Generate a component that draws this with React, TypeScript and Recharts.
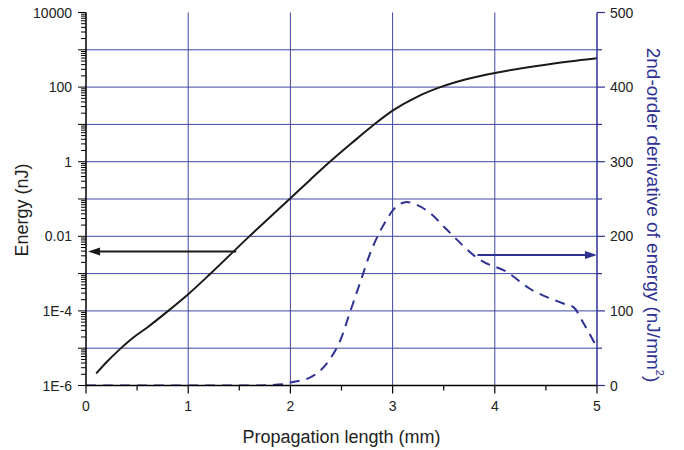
import React from 'react'
import { ComposedChart, Line, XAxis, YAxis, ReferenceLine, Label } from 'recharts'

// energy curve (left, log axis)
const energyX = [0.1, 0.2, 0.33, 0.46, 0.6, 0.79, 1.0, 1.23, 1.59, 2.0, 2.2, 2.4, 2.6, 2.81, 3.0, 3.24, 3.46, 3.72, 4.0, 4.5, 5.0]
const energyY = [2.1e-6, 4.2e-6, 9.3e-6, 1.9e-5, 3.6e-5, 9.3e-5, 2.8e-4, 1.07e-3, 9.5e-3, 0.105, 0.34, 1.07, 3.16, 9.5, 23.4, 55, 98, 162, 240, 400, 590]

// 2nd-order derivative (right, linear axis, dashed)
const derivX = [0, 1.6, 1.93, 2.0, 2.19, 2.39, 2.49, 2.58, 2.68, 2.78, 2.86, 2.94, 3.01, 3.14, 3.2, 3.37, 3.53, 3.86, 4.12, 4.34, 4.67, 4.77, 4.87, 4.98]
const derivY = [0, 0, 1.6, 4, 10.5, 36, 61, 97, 137, 177, 202, 222, 236, 246, 244, 231, 209, 168, 152, 130, 110, 105, 83, 56]

const xMajor = [0, 1, 2, 3, 4, 5]
const xTicks = [0, 0.5, 1, 1.5, 2, 2.5, 3, 3.5, 4, 4.5, 5]
const xGrid = [1, 2, 3, 4]

const leftLabelValues = [1e-6, 1e-4, 1e-2, 1, 100, 10000]
const leftLabelTexts = ['1E-6', '1E-4', '0.01', '1', '100', '10000']
const decades = [1e-6, 1e-5, 1e-4, 1e-3, 1e-2, 1e-1, 1, 10, 100, 1000, 10000]
const yGrid = [1e-5, 1e-4, 1e-3, 1e-2, 1e-1, 1, 10, 100, 1000]
const minorMult = [2, 3, 4, 5, 6, 7, 8, 9]
const leftTicks = decades
  .flatMap((d, i) => (i < decades.length - 1 ? [d, ...minorMult.map((m) => +(m * d).toPrecision(3))] : [d]))

const rightTicks = [0, 50, 100, 150, 200, 250, 300, 350, 400, 450, 500]
const rightMajor = [0, 100, 200, 300, 400, 500]

// arrows pointing to each curve's axis
const energyArrow = { from: 1.47, to: 0.02, y: 0.0039 }
const derivArrow = { from: 3.83, to: 5, y: 175 }

const energyData = energyX.map((x, i) => ({ x, e: energyY[i] }))
const derivData = derivX.map((x, i) => ({ x, d: derivY[i] }))

const BLUE = '#2e3192'
const GRID = '#4246a3'
const FONT = '"Liberation Sans", Arial, sans-serif'

const near = (a: number, b: number) => Math.abs(a - b) <= Math.abs(b) * 1e-6

const BottomTick = ({ x, y, payload }: any) => {
  const major = xMajor.includes(payload.value)
  return (
    <g>
      <line x1={x} x2={x} y1={y} y2={y + (major ? 8 : 5)} stroke="#000" strokeWidth={1.2} />
      {major && (
        <text x={x} y={y + 25} textAnchor="middle" fontSize={14} fill="#222" fontFamily={FONT}>
          {payload.value}
        </text>
      )}
    </g>
  )
}

const TopTick = ({ x, y, payload }: any) => {
  const major = xMajor.includes(payload.value)
  return <line x1={x} x2={x} y1={y} y2={y + (major ? 8 : 5)} stroke="#000" strokeWidth={1.2} />
}

const LeftTick = ({ x, y, payload }: any) => {
  const v = payload.value
  const isDecade = decades.some((d) => near(v, d))
  const li = leftLabelValues.findIndex((d) => near(v, d))
  return (
    <g>
      <line x1={x} x2={x - (isDecade ? 8 : 5)} y1={y} y2={y} stroke="#000" strokeWidth={1} />
      {li >= 0 && (
        <text x={x - 14} y={y} dy={5} textAnchor="end" fontSize={14} fill="#222" fontFamily={FONT}>
          {leftLabelTexts[li]}
        </text>
      )}
    </g>
  )
}

const RightTick = ({ x, y, payload }: any) => {
  const major = rightMajor.includes(payload.value)
  return (
    <g>
      <line x1={x} x2={x + (major ? 8 : 5)} y1={y} y2={y} stroke={BLUE} strokeWidth={1.2} />
      {major && (
        <text x={x + 13} y={y} dy={5} textAnchor="start" fontSize={14} fill="#222" fontFamily={FONT}>
          {payload.value}
        </text>
      )}
    </g>
  )
}

const arrowShape = (color: string) => (p: any) => {
  const { x1, y1, x2, y2 } = p
  const dir = x2 > x1 ? 1 : -1
  const len = 12
  const hw = 4
  return (
    <g>
      <line x1={x1} y1={y1} x2={x2 - dir * len} y2={y2} stroke={color} strokeWidth={2} />
      <polygon points={`${x2},${y2} ${x2 - dir * len},${y2 - hw} ${x2 - dir * len},${y2 + hw}`} fill={color} />
    </g>
  )
}

const LeftTitle = ({ viewBox }: any) => {
  const cx = 22
  const cy = viewBox.y + viewBox.height / 2 + 11
  return (
    <text x={cx} y={cy} transform={`rotate(-90 ${cx} ${cy})`} textAnchor="middle" dominantBaseline="central"
      fontSize={18} fill="#222" fontFamily={FONT}>
      Energy (nJ)
    </text>
  )
}

const RightTitle = ({ viewBox }: any) => {
  const cx = 653
  const cy = viewBox.y + viewBox.height / 2 + 16
  return (
    <text x={cx} y={cy} transform={`rotate(90 ${cx} ${cy})`} textAnchor="middle" dominantBaseline="central"
      fontSize={19} fill={BLUE} fontFamily={FONT}>
      2nd-order derivative of energy (nJ/mm
      <tspan dy={-7} fontSize={11}>2</tspan>
      <tspan dy={7}>)</tspan>
    </text>
  )
}

const BottomTitle = ({ viewBox }: any) => (
  <text x={viewBox.x + viewBox.width / 2} y={443} textAnchor="middle" fontSize={18} fill="#222" fontFamily={FONT}>
    Propagation length (mm)
  </text>
)

export default function App() {
  return (
    <div style={{ position: 'absolute', left: 0, top: 0, background: '#fff' }}>
      <ComposedChart width={684} height={450} margin={{ top: 12.5, right: 0, bottom: 0, left: 0 }}>
        <XAxis
          xAxisId={0}
          dataKey="x"
          type="number"
          domain={[0, 5]}
          ticks={xTicks}
          interval={0}
          height={64.5}
          tickSize={0}
          tickMargin={0}
          tick={<BottomTick />}
          tickLine={false}
          axisLine={{ stroke: '#000', strokeWidth: 1.5 }}
          allowDataOverflow
        >
          <Label content={<BottomTitle />} />
        </XAxis>
        <XAxis
          xAxisId="top"
          orientation="top"
          type="number"
          domain={[0, 5]}
          ticks={xTicks}
          interval={0}
          height={0}
          tickSize={0}
          tickMargin={0}
          tick={<TopTick />}
          tickLine={false}
          axisLine={{ stroke: '#000', strokeWidth: 1.5 }}
        />
        <YAxis
          yAxisId="left"
          type="number"
          scale="log"
          domain={[1e-6, 1e4]}
          allowDataOverflow
          ticks={leftTicks}
          interval={0}
          width={86}
          tickSize={0}
          tickMargin={0}
          tick={<LeftTick />}
          tickLine={false}
          axisLine={{ stroke: '#000', strokeWidth: 1.5 }}
        >
          <Label content={<LeftTitle />} />
        </YAxis>
        <YAxis
          yAxisId="right"
          orientation="right"
          type="number"
          domain={[0, 500]}
          allowDataOverflow
          ticks={rightTicks}
          interval={0}
          width={87}
          tickSize={0}
          tickMargin={0}
          tick={<RightTick />}
          tickLine={false}
          axisLine={{ stroke: BLUE, strokeWidth: 1.5 }}
        >
          <Label content={<RightTitle />} />
        </YAxis>

        {yGrid.map((v) => (
          <ReferenceLine key={'h' + v} yAxisId="left" y={v} stroke={GRID} strokeWidth={1} />
        ))}
        {xGrid.map((v) => (
          <ReferenceLine key={'v' + v} yAxisId="left" x={v} stroke={GRID} strokeWidth={1} />
        ))}

        <Line
          yAxisId="left"
          data={energyData}
          dataKey="e"
          type="monotone"
          stroke="#1a1a1a"
          strokeWidth={2}
          dot={false}
          isAnimationActive={false}
        />
        <Line
          yAxisId="right"
          data={derivData}
          dataKey="d"
          type="monotone"
          stroke={BLUE}
          strokeWidth={2}
          strokeDasharray="10 7"
          dot={false}
          isAnimationActive={false}
        />

        <ReferenceLine
          yAxisId="left"
          segment={[{ x: energyArrow.from, y: energyArrow.y }, { x: energyArrow.to, y: energyArrow.y }]}
          shape={arrowShape('#1a1a1a')}
        />
        <ReferenceLine
          yAxisId="right"
          segment={[{ x: derivArrow.from, y: derivArrow.y }, { x: derivArrow.to, y: derivArrow.y }]}
          shape={arrowShape(BLUE)}
        />
      </ComposedChart>
    </div>
  )
}
